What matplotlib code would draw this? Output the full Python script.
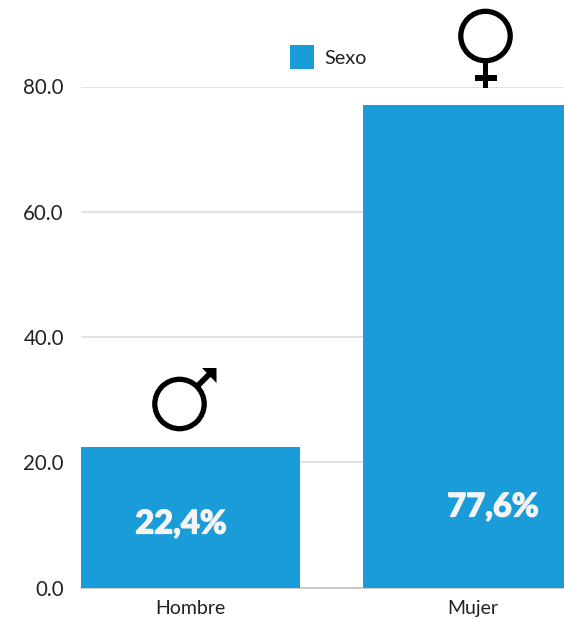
import matplotlib
matplotlib.use('Agg')
import matplotlib.pyplot as plt
import matplotlib.patheffects as pe
from matplotlib.patches import Circle, Polygon
from matplotlib.transforms import Affine2D

# Data
categories = ['Hombre', 'Mujer']
values = [22.4, 77.0]
value_labels = ['22,4%', '77,6%']
y_ticks = [0, 20, 40, 60, 80]
series_name = 'Sexo'

blue = '#1a9cd9'
W, H = 564, 619
plt.rcParams['font.family'] = ['Lato', 'DejaVu Sans']

fig = plt.figure(figsize=(W / 100, H / 100), dpi=100)
ax = fig.add_axes([81 / W, 1 - 587.5 / H, (W - 81) / W, (587.5 - 86.5) / H])

# top-left pixel coordinates for the overlays
px = Affine2D().scale(1, -1).translate(0, H)

x = range(len(categories))
ax.bar(x, values, width=0.777, color=blue, label=series_name, zorder=3)
ax.set_xlim(-0.3885, 1.3245)
ax.set_ylim(0, 80)

ax.set_yticks(y_ticks)
ax.set_yticklabels([f'{v:.1f}' for v in y_ticks], fontsize=14.8, color='#222222')
ax.set_xticks(list(x))
ax.set_xticklabels(categories, fontsize=14, color='#222222')
ax.tick_params(axis='both', length=0)
ax.tick_params(axis='y', pad=12.4)
ax.tick_params(axis='x', pad=9)
ax.grid(axis='y', color='#e2e2e2', linewidth=1.4, zorder=0)
ax.set_axisbelow(True)
for s in ['top', 'right', 'left']:
    ax.spines[s].set_visible(False)
ax.spines['bottom'].set_color('#c4c4c4')
ax.spines['bottom'].set_linewidth(1.2)

# value labels sit off centre in the original
heavy = [pe.withStroke(linewidth=0.9, foreground='#f4f4f4')]
fig.text(181, 524, value_labels[0], transform=px, color='#f4f4f4', fontsize=23.5,
         fontweight='black', ha='center', va='center', path_effects=heavy)
fig.text(493, 507, value_labels[1], transform=px, color='#f4f4f4', fontsize=23.5,
         fontweight='black', ha='center', va='center', path_effects=heavy)

ax.legend(loc='center left', bbox_to_anchor=(290, 57), bbox_transform=px,
          frameon=False, fontsize=14.3, borderpad=0, borderaxespad=0,
          handlelength=1.21, handleheight=1.5, handletextpad=0.5,
          labelcolor='#222222')

# female symbol
fig.add_artist(Circle((485.5, 36), 24.7, transform=px, fill=False, ec='black', lw=3.8))
fig.add_artist(Polygon([(483, 61), (488, 61), (488, 88), (483, 88)], transform=px, color='black', lw=0))
fig.add_artist(Polygon([(475, 75), (497, 75), (497, 80.5), (475, 80.5)], transform=px, color='black', lw=0))

# male symbol
fig.add_artist(Circle((179.5, 404), 24.7, transform=px, fill=False, ec='black', lw=3.8))
fig.add_artist(Polygon([(195.5, 384), (207, 372.5), (211, 376.5), (199.5, 388)], transform=px, color='black', lw=0))
fig.add_artist(Polygon([(216.5, 368), (216.5, 383), (202, 368)], transform=px, color='black', lw=0))

fig.savefig('out.png', dpi=100)
